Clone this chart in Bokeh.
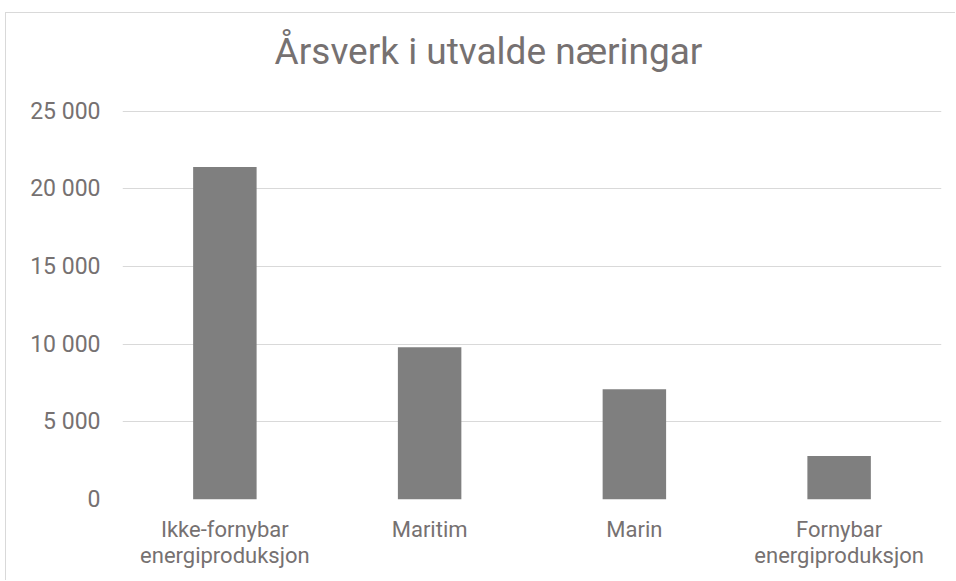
from bokeh.plotting import figure
from bokeh.models import FixedTicker, Range1d, Label
from bokeh.embed import file_html
from bokeh.resources import INLINE

# ---- data ----
categories = ["Ikke-fornybar\nenergiproduksjon", "Maritim", "Marin", "Fornybar\nenergiproduksjon"]
values = [21400, 9800, 7100, 2800]
y_ticks = [0, 5000, 10000, 15000, 20000, 25000]
y_tick_labels = ["0", "5 000", "10 000", "15 000", "20 000", "25 000"]
title_text = "Årsverk i utvalde næringar"

TEXT = "#767171"
GRID = "#D9D9D9"
BAR = "#7F7F7F"
FONT = "Roboto"

# layout geometry (pixels)
H = 568
BOTTOM = 82
TOP_PAD = 97.7          # space between canvas top and the 25 000 gridline
frame_h = H - BOTTOM
y_end = y_ticks[-1] * frame_h / (frame_h - TOP_PAD)

p = figure(
    x_range=categories,
    y_range=Range1d(0, y_end),
    width=950,
    height=H,
    output_backend="svg",
    toolbar_location=None,
    min_border_left=116,
    min_border_right=15,
    min_border_top=0,
    min_border_bottom=BOTTOM,
)
p.styles = {
    "margin-left": "5px",
    "margin-top": "12px",
    "border-left": "1px solid #D9D9D9",
    "border-top": "1px solid #D9D9D9",
}

p.vbar(x=categories, top=values, width=0.31, color=BAR, line_color=None)

p.outline_line_color = None
p.background_fill_color = "white"
p.border_fill_color = "white"

title = Label(
    x=366, y=448, x_units="screen", y_units="screen",
    text=title_text, text_align="center", text_baseline="alphabetic",
    text_font=FONT, text_font_size="37px", text_color=TEXT,
)
p.add_layout(title)

p.xgrid.grid_line_color = None
p.ygrid.grid_line_color = GRID
p.ygrid.grid_line_width = 1
p.ygrid.ticker = FixedTicker(ticks=y_ticks)

ya = p.yaxis[0]
ya.ticker = FixedTicker(ticks=y_ticks)
ya.major_label_overrides = {t: l for t, l in zip(y_ticks, y_tick_labels)}
ya.axis_line_color = None
ya.major_tick_line_color = None
ya.minor_tick_line_color = None
ya.major_tick_out = 0
ya.major_label_standoff = 22
ya.major_label_text_font = FONT
ya.major_label_text_font_size = "23px"
ya.major_label_text_color = TEXT

xa = p.xaxis[0]
xa.axis_line_color = None
xa.major_tick_line_color = None
xa.minor_tick_line_color = None
xa.major_tick_out = 0
xa.major_label_standoff = 17
xa.major_label_text_font = FONT
xa.major_label_text_font_size = "22px"
xa.major_label_text_line_height = 1.05
xa.major_label_text_color = TEXT
xa.major_label_orientation = "horizontal"

open("out.html", "w").write(file_html(p, INLINE))
